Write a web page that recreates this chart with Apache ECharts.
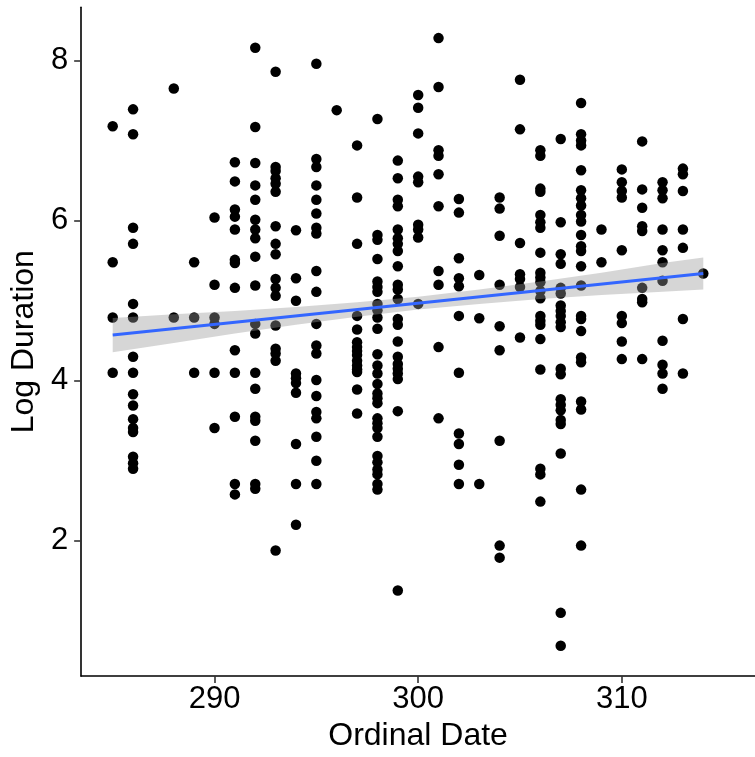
<!DOCTYPE html>
<html><head><meta charset="utf-8">
<script src="https://cdn.jsdelivr.net/npm/echarts@6/dist/echarts.min.js"></script>
<style>html,body{margin:0;padding:0;background:#fff}#c{width:755px;height:757px}</style>
</head><body><div id="c"></div>
<script>
// Ordinal dates (x) and the log durations observed on each date (y)
const days = [285, 286, 288, 289, 290, 291, 292, 293, 294, 295, 296, 297, 298, 299, 300,
  301, 302, 303, 304, 305, 306, 307, 308, 309, 310, 311, 312, 313, 314];
const logDurations = [
  [7.18, 5.48, 4.79, 4.10],
  [7.39, 7.08, 5.91, 5.71, 4.96, 4.79, 4.30, 4.10, 3.83, 3.69, 3.52, 3.41, 3.36, 3.05, 2.97, 2.90],
  [7.65, 4.79],
  [5.48, 4.79, 4.10],
  [6.04, 5.20, 4.79, 4.71, 4.10, 3.41],
  [6.73, 6.49, 6.14, 6.05, 5.89, 5.51, 5.47, 5.16, 4.38, 4.10, 3.55, 2.71, 2.58],
  [8.16, 7.17, 6.72, 6.44, 6.26, 6.01, 5.89, 5.78, 5.55, 5.19, 4.71, 4.59, 4.10, 3.90, 3.55, 3.50, 3.25, 2.71, 2.65],
  [7.86, 6.67, 6.62, 6.53, 6.46, 6.36, 5.93, 5.71, 5.58, 5.27, 5.16, 5.06, 4.69, 4.40, 4.34, 4.25, 1.88],
  [5.88, 5.28, 5.00, 4.09, 4.03, 3.97, 3.85, 3.21, 2.71, 2.20],
  [7.96, 6.77, 6.67, 6.44, 6.26, 6.09, 5.91, 5.84, 5.37, 5.11, 4.71, 4.44, 4.34, 4.01, 3.81, 3.61, 3.53, 3.30, 3.00, 2.71],
  [7.38],
  [6.94, 6.29, 5.71, 4.81, 4.64, 4.48, 4.42, 4.37, 4.32, 4.25, 4.19, 4.14, 4.11, 3.89, 3.59],
  [7.27, 5.82, 5.76, 5.52, 5.24, 5.17, 5.11, 4.96, 4.88, 4.79, 4.65, 4.33, 4.19, 4.09, 3.96, 3.84, 3.78, 3.72, 3.53, 3.47, 3.41, 3.30, 3.06, 2.98, 2.89, 2.83, 2.71, 2.64],
  [6.75, 6.53, 6.26, 6.18, 5.89, 5.78, 5.71, 5.62, 5.43, 5.20, 5.14, 5.02, 4.77, 4.70, 4.49, 4.30, 4.21, 4.15, 4.09, 4.02, 3.62, 1.38],
  [7.57, 7.41, 7.09, 6.55, 6.48, 5.95, 5.89, 5.79, 4.96],
  [8.28, 7.67, 6.88, 6.81, 6.58, 6.18, 5.37, 5.20, 4.42, 3.53],
  [6.27, 6.10, 5.53, 5.28, 5.18, 4.81, 4.10, 3.34, 3.21, 2.95, 2.71],
  [5.32, 4.78, 2.71],
  [6.29, 6.15, 5.81, 5.20, 4.68, 4.38, 3.25, 1.94, 1.79],
  [7.76, 7.14, 5.72, 5.33, 5.27, 5.17, 4.54],
  [6.88, 6.81, 6.40, 6.36, 6.07, 5.98, 5.91, 5.60, 5.35, 5.29, 5.23, 5.12, 5.03, 4.81, 4.75, 4.70, 4.52, 4.14, 2.90, 2.83, 2.49],
  [7.02, 5.98, 5.58, 5.46, 5.16, 5.09, 4.94, 4.87, 4.81, 4.73, 4.67, 4.15, 4.08, 3.77, 3.70, 3.63, 3.51, 3.46, 3.09, 1.10, 0.69],
  [7.47, 7.08, 7.00, 6.94, 6.63, 6.38, 6.28, 6.19, 6.07, 5.99, 5.82, 5.68, 5.62, 5.43, 5.19, 4.81, 4.77, 4.62, 4.29, 4.23, 3.74, 3.64, 2.64, 1.94],
  [5.89, 5.48],
  [6.64, 6.48, 6.37, 6.29, 5.63, 4.81, 4.72, 4.49, 4.27],
  [6.99, 6.39, 6.16, 5.93, 5.87, 5.16, 5.02, 4.98, 4.27],
  [6.48, 6.38, 6.28, 5.89, 5.63, 5.48, 5.25, 4.50, 4.20, 4.09, 3.90],
  [6.65, 6.58, 6.37, 5.89, 5.66, 4.77, 4.09],
  [5.34]
];
// Linear fit line and its confidence band
const fitX = [285, 314];
const fitY = [4.57, 5.34];
const bandX = [285, 288, 291, 294, 297, 300, 303, 306, 309, 312, 314];
const bandLower = [4.355, 4.47, 4.59, 4.70, 4.80, 4.89, 4.96, 5.02, 5.07, 5.11, 5.14];
const bandUpper = [4.785, 4.83, 4.87, 4.92, 4.98, 5.05, 5.14, 5.24, 5.35, 5.47, 5.54];
const xTicks = [290, 300, 310];
const yTicks = [2, 4, 6, 8];

const points = [];
days.forEach((d, i) => logDurations[i].forEach(v => points.push([d, v])));
const fitData = fitX.map((x, i) => [x, fitY[i]]);

const FONT = 'Liberation Sans, Arial, sans-serif';
const chart = echarts.init(document.getElementById('c'), null, {renderer: 'canvas'});
chart.setOption({
  animation: false,
  backgroundColor: '#fff',
  grid: {left: 76, width: 685, top: 7.3, height: 674.4, containLabel: false},
  xAxis: {
    type: 'value', min: 283.45, max: 316.54,
    name: 'Ordinal Date', nameLocation: 'middle', nameGap: 42,
    nameTextStyle: {fontFamily: FONT, fontSize: 32, color: '#000'},
    axisLine: {show: true, onZero: false, lineStyle: {color: '#000', width: 1.6}},
    axisTick: {show: true, customValues: xTicks, length: 7, lineStyle: {color: '#333', width: 1.6}},
    axisLabel: {customValues: xTicks, margin: 8, fontFamily: FONT, fontSize: 31, color: '#000'},
    splitLine: {show: false}
  },
  yAxis: {
    type: 'value', min: 0.31, max: 8.665,
    name: 'Log Duration', nameLocation: 'middle', nameGap: 34, nameRotate: 90,
    nameTextStyle: {fontFamily: FONT, fontSize: 32, color: '#000'},
    axisLine: {show: true, onZero: false, lineStyle: {color: '#000', width: 1.6}},
    axisTick: {show: true, customValues: yTicks, length: 7, lineStyle: {color: '#333', width: 1.6}},
    axisLabel: {customValues: yTicks, margin: 13, fontFamily: FONT, fontSize: 31, color: '#000'},
    splitLine: {show: false}
  },
  series: [
    {
      type: 'scatter', data: points, symbol: 'circle', symbolSize: 10.5, z: 2,
      itemStyle: {color: '#000', opacity: 1}, silent: true
    },
    {
      type: 'custom', z: 3, silent: true,
      data: [[bandX[0], bandLower[0]]],
      encode: {x: 0, y: 1},
      renderItem: function (params, api) {
        const pts = [];
        for (let i = 0; i < bandX.length; i++) pts.push(api.coord([bandX[i], bandUpper[i]]));
        for (let i = bandX.length - 1; i >= 0; i--) pts.push(api.coord([bandX[i], bandLower[i]]));
        return {type: 'polygon', shape: {points: pts}, style: {fill: 'rgba(153,153,153,0.4)'}};
      }
    },
    {
      type: 'line', data: fitData, z: 4, showSymbol: false, silent: true,
      lineStyle: {color: '#3366FF', width: 3}
    }
  ]
});
</script></body></html>
